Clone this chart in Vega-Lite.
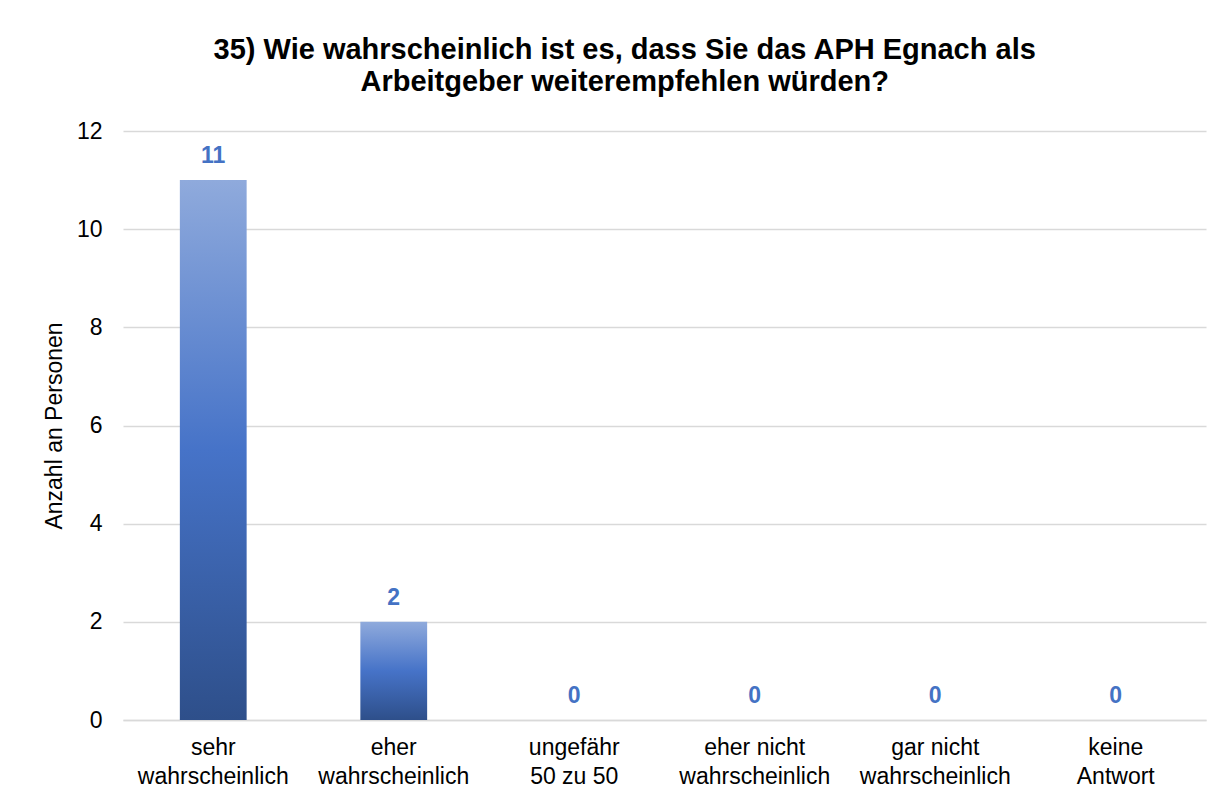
{
  "$schema": "https://vega.github.io/schema/vega-lite/v6.json",
  "autosize": "none",
  "padding": {"left": 123, "top": 131, "right": 17, "bottom": 81},
  "width": 1083,
  "height": 589,
  "background": "white",
  "title": {
    "text": ["35) Wie wahrscheinlich ist es, dass Sie das APH Egnach als", "Arbeitgeber weiterempfehlen würden?"],
    "font": "Liberation Sans",
    "fontSize": 29,
    "fontWeight": "bold",
    "color": "#000000",
    "lineHeight": 32,
    "anchor": "middle",
    "frame": "bounds",
    "offset": 23
  },
  "data": {
    "values": [
      {"kategorie": "sehr wahrscheinlich", "anzahl": 11},
      {"kategorie": "eher wahrscheinlich", "anzahl": 2},
      {"kategorie": "ungefähr 50 zu 50", "anzahl": 0},
      {"kategorie": "eher nicht wahrscheinlich", "anzahl": 0},
      {"kategorie": "gar nicht wahrscheinlich", "anzahl": 0},
      {"kategorie": "keine Antwort", "anzahl": 0}
    ]
  },
  "encoding": {
    "x": {
      "field": "kategorie",
      "type": "nominal",
      "sort": null,
      "scale": {"paddingInner": 0.63, "paddingOuter": 0.315},
      "axis": {
        "title": null,
        "labelAngle": 0,
        "labelExpr": "datum.label == 'sehr wahrscheinlich' ? ['sehr', 'wahrscheinlich'] : datum.label == 'eher wahrscheinlich' ? ['eher', 'wahrscheinlich'] : datum.label == 'ungefähr 50 zu 50' ? ['ungefähr', '50 zu 50'] : datum.label == 'eher nicht wahrscheinlich' ? ['eher nicht', 'wahrscheinlich'] : datum.label == 'gar nicht wahrscheinlich' ? ['gar nicht', 'wahrscheinlich'] : ['keine', 'Antwort']",
        "labelFont": "Liberation Sans",
        "labelFontSize": 23,
        "labelColor": "#000000",
        "labelLineHeight": 29,
        "labelPadding": 16,
        "labelBaseline": "top",
        "ticks": false,
        "domainColor": "#D9D9D9",
        "domainWidth": 1.5,
        "grid": false
      }
    },
    "y": {
      "field": "anzahl",
      "type": "quantitative",
      "scale": {"domain": [0, 12], "nice": false},
      "axis": {
        "title": "Anzahl an Personen",
        "titleFont": "Liberation Sans",
        "titleFontSize": 23,
        "titleFontWeight": "normal",
        "titleColor": "#000000",
        "titlePadding": 10,
        "values": [0, 2, 4, 6, 8, 10, 12],
        "labelFont": "Liberation Sans",
        "labelFontSize": 23,
        "labelColor": "#000000",
        "labelPadding": 21,
        "ticks": false,
        "domain": false,
        "gridColor": "#D9D9D9",
        "gridWidth": 1.5
      }
    }
  },
  "layer": [
    {
      "mark": {
        "type": "bar",
        "color": {
          "gradient": "linear",
          "x1": 0, "y1": 0, "x2": 0, "y2": 1,
          "stops": [
            {"offset": 0, "color": "#8FAADC"},
            {"offset": 0.5, "color": "#4673C8"},
            {"offset": 1, "color": "#2E4F8A"}
          ]
        }
      }
    },
    {
      "mark": {
        "type": "text",
        "font": "Liberation Sans",
        "fontSize": 23,
        "fontWeight": "bold",
        "color": "#4472C4",
        "baseline": "alphabetic",
        "dy": -17
      },
      "encoding": {"text": {"field": "anzahl", "type": "quantitative"}}
    }
  ],
  "config": {"view": {"stroke": null}}
}
